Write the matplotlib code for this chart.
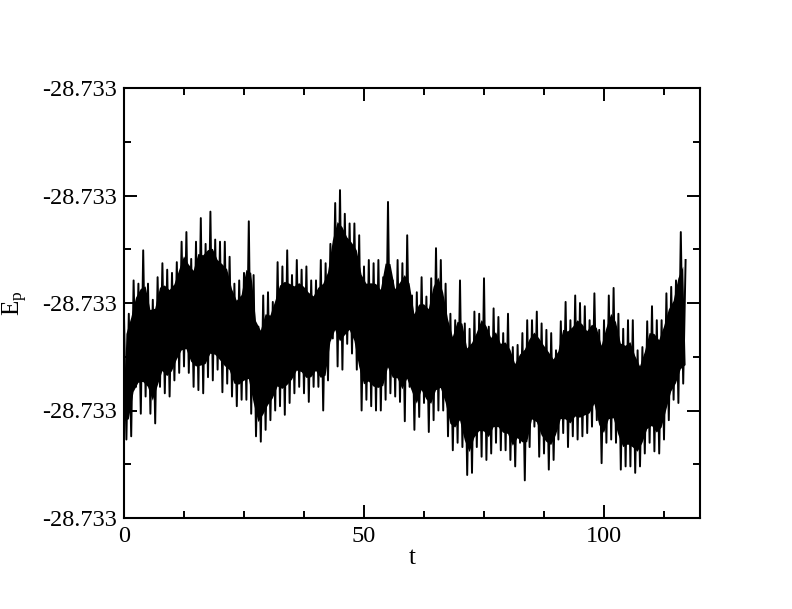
#!/usr/bin/python
# -*- coding:utf-8 -*-

import numpy as np
import matplotlib
matplotlib.use("Agg")
import matplotlib.pyplot as plt
from matplotlib.ticker import MultipleLocator, FormatStrFormatter

# potential energy E_p = -28.733 + d * 1e-6
E_BASE = -28.733
# local maxima at t = 0, 1, 2, ... 117
peakHi = [-213, -210, -179, -182, -151, -182, -197, -176, -163, -169,
          -172, -162, -143, -134, -159, -143, -121, -145, -115, -141,
          -143, -143, -157, -182, -179, -172, -124, -174, -222, -193,
          -190, -199, -162, -166, -151, -174, -160, -169, -166, -179,
          -179, -160, -163, -145, -107, -95, -117, -126, -126, -137,
          -166, -160, -163, -160, -176, -106, -179, -160, -163, -137,
          -193, -190, -176, -194, -177, -149, -160, -182, -210, -216,
          -179, -219, -224, -208, -210, -177, -222, -205, -213, -228,
          -210, -241, -239, -228, -216, -216, -208, -219, -225, -228,
          -244, -217, -199, -216, -193, -200, -203, -216, -191,
          -225, -216, -193, -186, -210, -224, -216, -216, -244, -241,
          -217, -203, -216, -216, -191, -185, -179, -134, -160]
# local minima at t = 0.5, 1.5, ... 116.5
peakLo = [-327, -324, -278, -303, -287, -303, -312, -278, -284, -287,
          -272, -265, -259, -265, -278, -281, -284, -269, -272, -262,
          -283, -275, -287, -296, -290, -290, -303, -324, -329, -318,
          -309, -300, -296, -304, -293, -284, -278, -284, -292, -278,
          -278, -300, -272, -233, -259, -262, -238, -247, -262, -300,
          -290, -296, -300, -300, -290, -284, -287, -292, -310, -278,
          -318, -306, -293, -320, -309, -300, -300, -324, -337, -330,
          -334, -360, -358, -334, -343, -346, -340, -330, -337,
          -337, -346, -352, -330, -365, -334, -315, -343, -340, -355,
          -346, -327, -321, -334, -324, -327, -324, -321, -315, -309,
          -349, -330, -327, -330, -355, -352, -352, -358, -352, -340,
          -330, -338, -340, -327, -309, -290, -293, -275]


def main():
    plt.rcParams['font.family'] = ['Liberation Serif', 'DejaVu Serif']
    plt.rcParams['mathtext.fontset'] = 'stix'

    tHi = np.arange(len(peakHi), dtype=float)
    tLo = np.arange(len(peakLo), dtype=float) + 0.5
    hi = E_BASE + np.array(peakHi) * 1e-6
    lo = E_BASE + np.array(peakLo) * 1e-6

    # zigzag hi, lo, hi, lo ...
    t = np.empty(len(tHi) + len(tLo))
    ep = np.empty(len(t))
    t[0::2], t[1::2] = tHi, tLo
    ep[0::2], ep[1::2] = hi, lo

    # the real trace is far denser than the peaks read off, so its middle
    # is solid black; shade that core, leaving the outer part of each swing
    frac = 0.85
    hiMean = 0.5 * (hi[:-1] + hi[1:])
    loMean = 0.5 * (np.r_[lo[0], lo] + np.r_[lo, lo[-1]])
    coreTop = lo + frac * (hiMean - lo)
    coreBot = hi - frac * (hi - loMean)

    fig = plt.figure(figsize=(7.92, 6.09), dpi=100)
    ax = fig.add_axes([124 / 792, 1 - 518 / 609, 576 / 792, 430 / 609])
    ax.fill(np.r_[tLo, tHi[::-1]], np.r_[coreTop, coreBot[::-1]],
            color="black", lw=0)
    ax.plot(t, ep, color="black", lw=1.4)

    ax.set_xlim(0, 120)
    ax.set_ylim(-28.7334, -28.7330)
    ax.xaxis.set_major_locator(MultipleLocator(50))
    ax.xaxis.set_minor_locator(MultipleLocator(12.5))
    ax.yaxis.set_major_locator(MultipleLocator(0.0001))
    ax.yaxis.set_minor_locator(MultipleLocator(0.00005))
    ax.yaxis.set_major_formatter(FormatStrFormatter('%.3f'))
    ax.tick_params(which="both", direction="in", top=True, right=True,
                   width=1.4, labelsize=17.5)
    ax.tick_params(which="major", length=9.5)
    ax.tick_params(which="minor", length=5)
    ax.tick_params(axis="x", pad=6)
    ax.tick_params(axis="y", pad=5)
    for s in ax.spines.values():
        s.set_linewidth(1.5)

    ax.set_xlabel("t", fontsize=18, labelpad=0)
    ax.set_ylabel(r"$\mathregular{E_p}$", fontsize=18, labelpad=9)

    fig.savefig("out.png", dpi=100)


if __name__ == '__main__':
    main()
